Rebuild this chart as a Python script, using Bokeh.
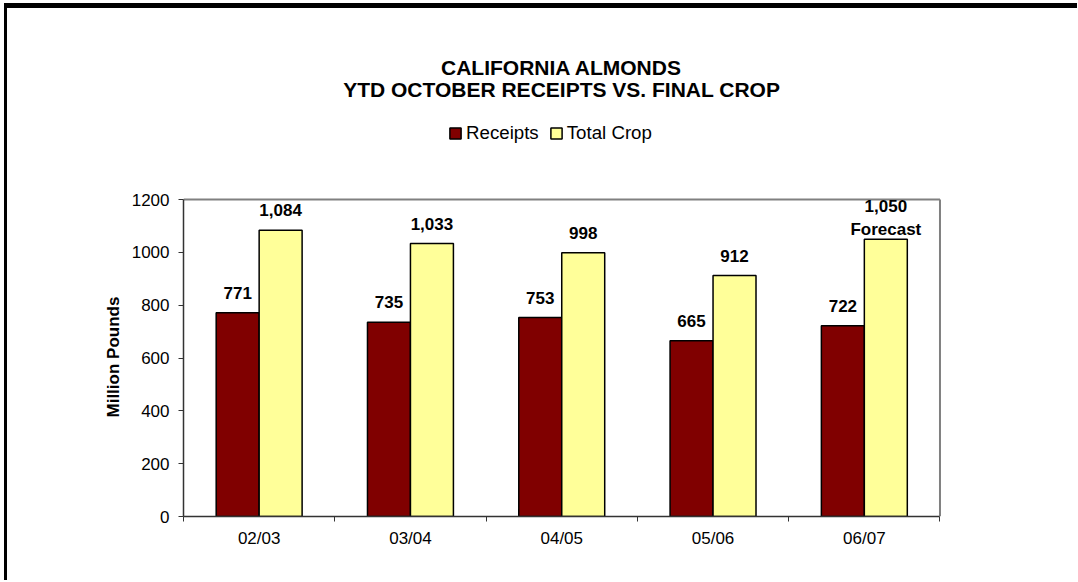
from bokeh.plotting import figure
from bokeh.models import (ColumnDataSource, LabelSet, Label, Legend, LegendItem,
                          FixedTicker, Range1d, Title)
from bokeh.core.properties import value
from bokeh.embed import file_html
from bokeh.resources import INLINE

# ---- data ----
seasons = ["02/03", "03/04", "04/05", "05/06", "06/07"]
receipts = [771, 735, 753, 665, 722]
total_crop = [1084, 1033, 998, 912, 1050]
y_ticks = [0, 200, 400, 600, 800, 1000, 1200]
title_lines = ["CALIFORNIA ALMONDS", "YTD OCTOBER RECEIPTS VS. FINAL CROP"]
y_label = "Million Pounds"
series_names = ["Receipts", "Total Crop"]
forecast_note = "Forecast"
forecast_idx = 4

FONT = "Liberation Sans"
RED = "#800000"
YEL = "#FFFF99"
BAR_W = 0.284

n = len(seasons)
y_max = max(y_ticks)
centers = [i + 0.5 for i in range(n)]

# layout geometry (page px)
CANVAS_TOP = 8          # page y of canvas top
AXIS_BOTTOM = 516       # page y of value 0
AXIS_TOP = 199          # page y of value y_max
FRAME_TOP = 40          # page y of (invisible) frame top, so titles/legend are inside frame
PPU = (AXIS_BOTTOM - AXIS_TOP) / y_max
FRAME_H = AXIS_BOTTOM - FRAME_TOP
Y_END = FRAME_H / PPU


def page_y(py):
    return (AXIS_BOTTOM - py) / PPU


src_r = ColumnDataSource(dict(x=[c - BAR_W / 2 for c in centers], top=receipts,
                              label=[f"{v:,}" for v in receipts]))
src_c = ColumnDataSource(dict(x=[c + BAR_W / 2 for c in centers], top=total_crop,
                              label=[f"{v:,}" for v in total_crop]))
reg = [i for i in range(n) if i != forecast_idx]
src_cl = ColumnDataSource(dict(x=[centers[i] + BAR_W / 2 for i in reg],
                               top=[total_crop[i] for i in reg],
                               label=[f"{total_crop[i]:,}" for i in reg]))

p = figure(output_backend="svg", toolbar_location=None, tools="",
           frame_width=758, frame_height=FRAME_H,
           min_border_left=176, min_border_top=FRAME_TOP - CANVAS_TOP,
           min_border_right=136, min_border_bottom=64,
           x_range=Range1d(0, n + 0.01), y_range=Range1d(0, Y_END))
p.styles = {"margin-left": "4px", "margin-top": "3px",
            "border-left": "3px solid black", "border-top": "5px solid black"}

p.background_fill_color = "white"
p.border_fill_color = "white"
p.outline_line_color = None
p.xgrid.visible = False
p.ygrid.visible = False

# plot-area border (top and right) in gray
p.line(x=[0, n], y=[y_max, y_max], line_color="#808080", line_width=2)
p.line(x=[n, n], y=[0, y_max], line_color="#808080", line_width=2)

r1 = p.vbar(x="x", top="top", width=BAR_W, source=src_r, fill_color=RED,
            line_color="black", line_width=1.5)
r2 = p.vbar(x="x", top="top", width=BAR_W, source=src_c, fill_color=YEL,
            line_color="black", line_width=1.5)

common = dict(text_font_style="bold", text_font_size="17px",
              text_color="black", text_align="center", text_baseline="alphabetic")
p.add_layout(LabelSet(x="x", y="top", text="label", source=src_r, y_offset=14,
                      text_font=value(FONT), **common))
p.add_layout(LabelSet(x="x", y="top", text="label", source=src_cl, y_offset=14,
                      text_font=value(FONT), **common))
fx = centers[forecast_idx] + BAR_W / 2
p.add_layout(Label(x=fx, y=total_crop[forecast_idx], text=f"{total_crop[forecast_idx]:,}",
                   y_offset=33, text_font=FONT, **common))
p.add_layout(Label(x=fx, y=total_crop[forecast_idx], text=forecast_note,
                   y_offset=10, text_font=FONT, **common))

# titles
for txt, py in zip(title_lines, [67, 89]):
    p.add_layout(Label(x=n / 2, y=page_y(py), text=txt,
                       text_font=FONT, text_font_style="bold", text_font_size="21px",
                       text_align="center", text_baseline="middle", text_color="black"))

# legend
legend = Legend(items=[LegendItem(label=series_names[0], renderers=[r1]),
                       LegendItem(label=series_names[1], renderers=[r2])],
                location=(265, 372), orientation="horizontal",
                glyph_width=14, glyph_height=14, label_standoff=4, spacing=10,
                padding=0, margin=0, border_line_alpha=0, background_fill_alpha=0,
                label_text_font=FONT, label_text_font_size="18.7px", label_text_color="black")
p.add_layout(legend, "center")

# y axis label as a left-panel title, aligned to the visible value axis
p.add_layout(Title(text=y_label, align="left", offset=AXIS_BOTTOM - 417,
                   vertical_align="bottom", standoff=12,
                   text_font=FONT, text_font_style="bold", text_font_size="17px",
                   text_color="black"), "left")

# y axis
ya = p.yaxis[0]
ya.ticker = FixedTicker(ticks=y_ticks)
ya.bounds = (0, y_max)
ya.major_label_text_font = FONT
ya.major_label_text_font_size = "17px"
ya.major_label_text_color = "black"
ya.major_label_standoff = 9
ya.major_tick_in = 0
ya.major_tick_out = 5
ya.minor_tick_line_color = None
ya.axis_line_color = "#333333"
ya.axis_line_width = 1.5
ya.major_tick_line_color = "#333333"

# x axis
xa = p.xaxis[0]
xa.ticker = FixedTicker(ticks=centers, minor_ticks=list(range(n + 1)))
xa.bounds = (0, n)
xa.major_label_overrides = {c: s for c, s in zip(centers, seasons)}
xa.major_label_text_font = FONT
xa.major_label_text_font_size = "17px"
xa.major_label_text_color = "black"
xa.major_label_standoff = 7
xa.major_tick_in = 0
xa.major_tick_out = 0
xa.minor_tick_in = 0
xa.minor_tick_out = 5
xa.minor_tick_line_color = "#333333"
xa.axis_line_color = "#333333"
xa.axis_line_width = 1.5

open("out.html", "w").write(file_html(p, INLINE))
